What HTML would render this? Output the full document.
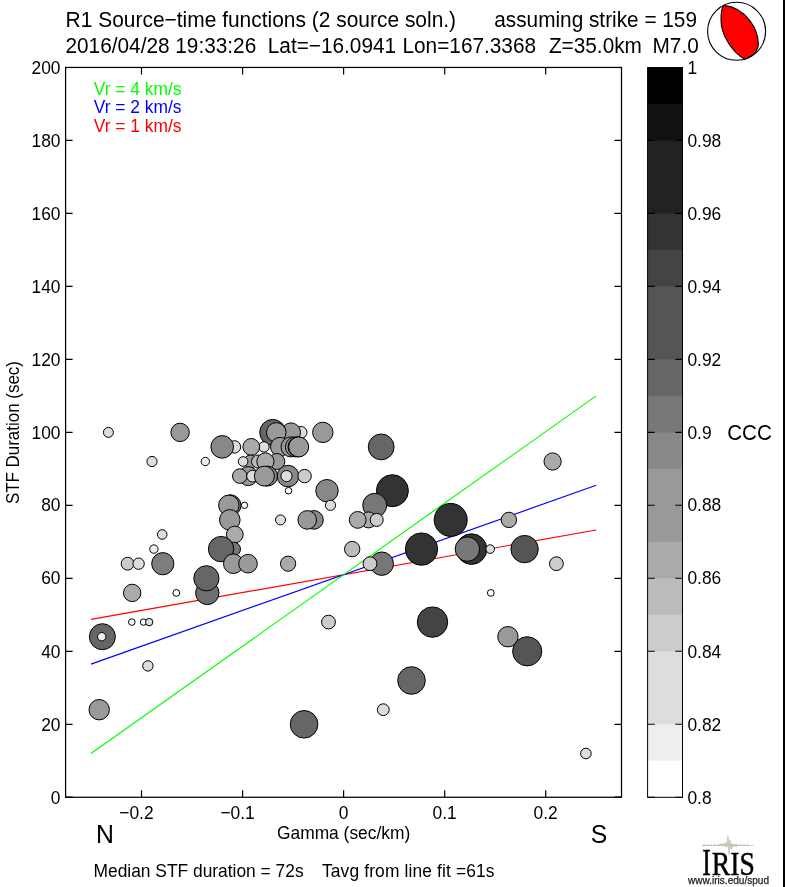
<!DOCTYPE html>
<html><head><meta charset="utf-8"><style>
html,body{margin:0;padding:0;background:#fff;}
svg{display:block;will-change:transform;}
text{font-family:"Liberation Sans",sans-serif;}
</style></head><body>
<svg width="785" height="887" viewBox="0 0 785 887">
<rect x="0" y="0" width="785" height="887" fill="#fff"/>
<rect x="783" y="0" width="2" height="887" fill="#000"/>
<g font-size="20.8" fill="#000">
<text transform="translate(65.6,27.3) scale(1,1.05)"   textLength="390.5" lengthAdjust="spacingAndGlyphs">R1 Source−time functions (2 source soln.)</text>
<text transform="translate(697,27.3) scale(1,1.05)"   text-anchor="end">assuming strike = 159</text>
<text transform="translate(65.5,52.8) scale(1,1.05)"  >2016/04/28 19:33:26</text>
<text transform="translate(267.8,52.8) scale(1,1.05)"  >Lat=−16.0941</text>
<text transform="translate(402.5,52.8) scale(1,1.05)"  >Lon=167.3368</text>
<text transform="translate(548.9,52.8) scale(1,1.05)"  >Z=35.0km</text>
<text transform="translate(652.5,52.8) scale(1,1.05)"  >M7.0</text>
</g>
<g font-size="17.4" fill="#000">
<text transform="translate(60.5,804.2) scale(1,1.06)"   text-anchor="end">0</text><text transform="translate(60.5,731.3) scale(1,1.06)"   text-anchor="end">20</text><text transform="translate(60.5,658.3) scale(1,1.06)"   text-anchor="end">40</text><text transform="translate(60.5,584.4) scale(1,1.06)"   text-anchor="end">60</text><text transform="translate(60.5,511.4) scale(1,1.06)"   text-anchor="end">80</text><text transform="translate(60.5,438.5) scale(1,1.06)"   text-anchor="end">100</text><text transform="translate(60.5,365.5) scale(1,1.06)"   text-anchor="end">120</text><text transform="translate(60.5,292.5) scale(1,1.06)"   text-anchor="end">140</text><text transform="translate(60.5,219.5) scale(1,1.06)"   text-anchor="end">160</text><text transform="translate(60.5,146.5) scale(1,1.06)"   text-anchor="end">180</text><text transform="translate(60.5,73.6) scale(1,1.06)"   text-anchor="end">200</text>
<text transform="translate(153.6,818.6) scale(1,1.06)"   text-anchor="end">−0.2</text><text transform="translate(254.7,818.6) scale(1,1.06)"   text-anchor="end">−0.1</text><text transform="translate(343.6,818.6) scale(1,1.06)"   text-anchor="middle">0</text><text transform="translate(444.7,818.6) scale(1,1.06)"   text-anchor="middle">0.1</text><text transform="translate(545.7,818.6) scale(1,1.06)"   text-anchor="middle">0.2</text>
<text transform="translate(687.4,804.2) scale(1,1.06)"  >0.8</text><text transform="translate(687.4,731.3) scale(1,1.06)"  >0.82</text><text transform="translate(687.4,658.3) scale(1,1.06)"  >0.84</text><text transform="translate(687.4,584.4) scale(1,1.06)"  >0.86</text><text transform="translate(687.4,511.4) scale(1,1.06)"  >0.88</text><text transform="translate(687.4,438.5) scale(1,1.06)"  >0.9</text><text transform="translate(687.4,365.5) scale(1,1.06)"  >0.92</text><text transform="translate(687.4,292.5) scale(1,1.06)"  >0.94</text><text transform="translate(687.4,219.5) scale(1,1.06)"  >0.96</text><text transform="translate(687.4,146.5) scale(1,1.06)"  >0.98</text><text transform="translate(687.4,73.6) scale(1,1.06)"  >1</text>
<text transform="translate(343.6,838.6) scale(1,1.06)"   text-anchor="middle">Gamma (sec/km)</text>
<text transform="translate(93.5,876.6) scale(1,1.06)"  >Median STF duration = 72s</text>
<text transform="translate(322,876.6) scale(1,1.06)"   textLength="172.5" lengthAdjust="spacing">Tavg from line fit =61s</text>
<text transform="translate(19.3,432.6) rotate(-90)" text-anchor="middle" font-size="17.8" textLength="143" lengthAdjust="spacingAndGlyphs">STF Duration (sec)</text>
<text transform="translate(93.8,95.0) scale(1,1.06)"   fill="#00ff00">Vr = 4 km/s</text>
<text transform="translate(93.8,113.4) scale(1,1.06)"   fill="#0000ff">Vr = 2 km/s</text>
<text transform="translate(93.8,131.8) scale(1,1.06)"   fill="#ff0000">Vr = 1 km/s</text>
</g>
<text transform="translate(749.5,439.7) scale(1,1.04)"   font-size="20.6" text-anchor="middle">CCC</text>
<text transform="translate(105,843) scale(1,1.04)"   font-size="24.8" text-anchor="middle">N</text>
<text transform="translate(599,843) scale(1,1.04)"   font-size="24.8" text-anchor="middle">S</text>
<!-- colorbar -->
<rect x="647.6" y="67.45" width="34.9" height="37.49" fill="rgb(0,0,0)"/><rect x="647.6" y="103.94" width="34.9" height="37.49" fill="rgb(17,17,17)"/><rect x="647.6" y="140.43" width="34.9" height="73.98" fill="rgb(34,34,34)"/><rect x="647.6" y="213.41" width="34.9" height="37.49" fill="rgb(51,51,51)"/><rect x="647.6" y="249.90" width="34.9" height="37.49" fill="rgb(68,68,68)"/><rect x="647.6" y="286.39" width="34.9" height="73.98" fill="rgb(85,85,85)"/><rect x="647.6" y="359.37" width="34.9" height="37.49" fill="rgb(102,102,102)"/><rect x="647.6" y="395.86" width="34.9" height="37.49" fill="rgb(119,119,119)"/><rect x="647.6" y="432.35" width="34.9" height="37.49" fill="rgb(136,136,136)"/><rect x="647.6" y="468.84" width="34.9" height="73.98" fill="rgb(153,153,153)"/><rect x="647.6" y="541.82" width="34.9" height="37.49" fill="rgb(170,170,170)"/><rect x="647.6" y="578.31" width="34.9" height="37.49" fill="rgb(187,187,187)"/><rect x="647.6" y="614.80" width="34.9" height="37.49" fill="rgb(204,204,204)"/><rect x="647.6" y="651.29" width="34.9" height="73.98" fill="rgb(221,221,221)"/><rect x="647.6" y="724.27" width="34.9" height="37.49" fill="rgb(238,238,238)"/><rect x="647.6" y="760.76" width="34.9" height="36.49" fill="rgb(255,255,255)"/>
<rect x="647.6" y="67.5" width="34.9" height="729.8" fill="none" stroke="#000" stroke-width="1.0"/>
<path d="M647.6,797.2H654.8000000000001M682.5,797.2H675.3M647.6,724.3H654.8000000000001M682.5,724.3H675.3M647.6,651.3H654.8000000000001M682.5,651.3H675.3M647.6,578.3H654.8000000000001M682.5,578.3H675.3M647.6,505.3H654.8000000000001M682.5,505.3H675.3M647.6,432.4H654.8000000000001M682.5,432.4H675.3M647.6,359.4H654.8000000000001M682.5,359.4H675.3M647.6,286.4H654.8000000000001M682.5,286.4H675.3M647.6,213.4H654.8000000000001M682.5,213.4H675.3M647.6,140.4H654.8000000000001M682.5,140.4H675.3M647.6,67.5H654.8000000000001M682.5,67.5H675.3" stroke="#000" stroke-width="1.1" fill="none"/>
<!-- axes -->
<line x1="91.0" y1="619.4" x2="596.2" y2="530.0" stroke="#ff0000" stroke-width="1.15"/><line x1="91.0" y1="664.1" x2="596.2" y2="485.3" stroke="#0000ff" stroke-width="1.15"/><line x1="91.0" y1="753.5" x2="596.2" y2="395.9" stroke="#00ff00" stroke-width="1.15"/>
<g stroke="#000" stroke-width="1.0">
<circle cx="108.4" cy="432.4" r="5.0" fill="#ddd"/>
<circle cx="180.1" cy="432.4" r="9.2" fill="#999"/>
<circle cx="301.1" cy="432.4" r="5.9" fill="#ddd"/>
<circle cx="291.0" cy="432.4" r="9.5" fill="#999"/>
<circle cx="272.7" cy="432.4" r="13.0" fill="#666"/>
<circle cx="276.3" cy="432.4" r="9.8" fill="#999"/>
<circle cx="322.8" cy="432.4" r="10.2" fill="#999"/>
<circle cx="234.5" cy="446.9" r="6.2" fill="#ddd"/>
<circle cx="222.2" cy="446.9" r="11.3" fill="#888"/>
<circle cx="264.0" cy="446.9" r="5.2" fill="#ddd"/>
<circle cx="251.3" cy="446.9" r="8.4" fill="#aaa"/>
<circle cx="280.0" cy="446.9" r="9.5" fill="#999"/>
<circle cx="291.0" cy="446.9" r="10.0" fill="#999"/>
<circle cx="295.4" cy="446.9" r="10.0" fill="#999"/>
<circle cx="298.0" cy="446.9" r="10.0" fill="#999"/>
<circle cx="298.7" cy="446.9" r="10.0" fill="#999"/>
<circle cx="381.2" cy="446.9" r="12.9" fill="#666"/>
<circle cx="152.0" cy="461.5" r="5.1" fill="#ddd"/>
<circle cx="205.3" cy="461.5" r="4.2" fill="#eee"/>
<circle cx="250.5" cy="461.5" r="6.5" fill="#999"/>
<circle cx="243.1" cy="461.5" r="4.8" fill="#ddd"/>
<circle cx="258.0" cy="461.5" r="6.5" fill="#bbb"/>
<circle cx="276.8" cy="461.5" r="8.0" fill="#999"/>
<circle cx="265.4" cy="461.5" r="8.6" fill="#aaa"/>
<circle cx="552.6" cy="461.5" r="8.6" fill="#aaa"/>
<circle cx="248.2" cy="476.1" r="9.5" fill="#999"/>
<circle cx="239.8" cy="476.1" r="7.3" fill="#aaa"/>
<circle cx="252.5" cy="476.1" r="5.8" fill="#ddd"/>
<circle cx="267.5" cy="476.1" r="10.0" fill="#888"/>
<circle cx="264.4" cy="476.1" r="10.0" fill="#999"/>
<circle cx="288.0" cy="476.1" r="10.8" fill="#888"/>
<circle cx="286.5" cy="476.1" r="5.6" fill="#ddd"/>
<circle cx="304.6" cy="476.1" r="6.7" fill="#ccc"/>
<circle cx="288.5" cy="490.7" r="3.3" fill="#fff"/>
<circle cx="327.0" cy="490.7" r="11.2" fill="#888"/>
<circle cx="392.4" cy="490.7" r="16.0" fill="#333"/>
<circle cx="230.5" cy="505.3" r="10.5" fill="#777"/>
<circle cx="228.8" cy="505.3" r="10.2" fill="#999"/>
<circle cx="244.5" cy="505.3" r="3.2" fill="#fff"/>
<circle cx="330.5" cy="505.3" r="5.1" fill="#ddd"/>
<circle cx="374.7" cy="505.3" r="12.0" fill="#777"/>
<circle cx="229.8" cy="519.9" r="10.3" fill="#999"/>
<circle cx="280.5" cy="519.9" r="5.0" fill="#ddd"/>
<circle cx="314.0" cy="519.9" r="9.3" fill="#888"/>
<circle cx="307.2" cy="519.9" r="9.3" fill="#999"/>
<circle cx="368.5" cy="519.9" r="8.0" fill="#aaa"/>
<circle cx="357.7" cy="519.9" r="8.4" fill="#aaa"/>
<circle cx="376.7" cy="519.9" r="6.5" fill="#ccc"/>
<circle cx="450.7" cy="519.9" r="16.5" fill="#333"/>
<circle cx="508.9" cy="519.9" r="7.7" fill="#aaa"/>
<circle cx="162.2" cy="534.5" r="4.8" fill="#ddd"/>
<circle cx="234.8" cy="534.5" r="8.4" fill="#aaa"/>
<circle cx="153.9" cy="549.1" r="4.2" fill="#eee"/>
<circle cx="233.5" cy="549.1" r="7.0" fill="#777"/>
<circle cx="221.1" cy="549.1" r="12.7" fill="#666"/>
<circle cx="352.2" cy="549.1" r="7.7" fill="#bbb"/>
<circle cx="421.5" cy="549.1" r="16.2" fill="#333"/>
<circle cx="471.5" cy="549.1" r="15.3" fill="#333"/>
<circle cx="467.4" cy="549.1" r="12.2" fill="#777"/>
<circle cx="490.2" cy="549.1" r="4.3" fill="#ddd"/>
<circle cx="524.6" cy="549.1" r="13.7" fill="#555"/>
<circle cx="127.6" cy="563.7" r="6.4" fill="#ccc"/>
<circle cx="138.6" cy="563.7" r="5.7" fill="#ddd"/>
<circle cx="162.8" cy="563.7" r="11.1" fill="#7e7e7e"/>
<circle cx="233.3" cy="563.7" r="9.8" fill="#999"/>
<circle cx="248.0" cy="563.7" r="9.3" fill="#999"/>
<circle cx="288.1" cy="563.7" r="7.6" fill="#aaa"/>
<circle cx="381.8" cy="563.7" r="11.7" fill="#777"/>
<circle cx="370.0" cy="563.7" r="6.9" fill="#ccc"/>
<circle cx="556.4" cy="563.7" r="6.9" fill="#ccc"/>
<circle cx="132.2" cy="592.9" r="8.7" fill="#aaa"/>
<circle cx="176.3" cy="592.9" r="3.4" fill="#fff"/>
<circle cx="207.3" cy="592.9" r="11.7" fill="#6e6e6e"/>
<circle cx="206.4" cy="578.3" r="12.6" fill="#666"/>
<circle cx="490.8" cy="592.9" r="3.4" fill="#fff"/>
<circle cx="131.8" cy="622.1" r="3.3" fill="#fff"/>
<circle cx="143.5" cy="622.1" r="3.2" fill="#fff"/>
<circle cx="149.2" cy="622.1" r="3.7" fill="#ddd"/>
<circle cx="328.5" cy="622.1" r="6.9" fill="#ccc"/>
<circle cx="432.5" cy="622.1" r="15.2" fill="#444"/>
<circle cx="102.4" cy="636.7" r="13.0" fill="#666"/>
<circle cx="101.7" cy="636.7" r="4.2" fill="#eee"/>
<circle cx="507.9" cy="636.7" r="10.2" fill="#999"/>
<circle cx="527.2" cy="651.3" r="14.6" fill="#555"/>
<circle cx="147.9" cy="665.9" r="5.2" fill="#ddd"/>
<circle cx="411.5" cy="680.5" r="13.8" fill="#666"/>
<circle cx="99.2" cy="709.7" r="10.2" fill="#999"/>
<circle cx="383.3" cy="709.7" r="5.9" fill="#ddd"/>
<circle cx="304.1" cy="724.3" r="13.8" fill="#666"/>
<circle cx="585.9" cy="753.5" r="5.3" fill="#ddd"/>
</g>
<rect x="65.6" y="67.45" width="555.9" height="729.80" fill="none" stroke="#000" stroke-width="1.25"/>
<path d="M141.5,797.2V790.2M141.5,67.5V74.5M242.6,797.2V790.2M242.6,67.5V74.5M343.6,797.2V790.2M343.6,67.5V74.5M444.7,797.2V790.2M444.7,67.5V74.5M545.7,797.2V790.2M545.7,67.5V74.5M65.6,797.2H72.6M621.5,797.2H614.5M65.6,724.3H72.6M621.5,724.3H614.5M65.6,651.3H72.6M621.5,651.3H614.5M65.6,578.3H72.6M621.5,578.3H614.5M65.6,505.3H72.6M621.5,505.3H614.5M65.6,432.4H72.6M621.5,432.4H614.5M65.6,359.4H72.6M621.5,359.4H614.5M65.6,286.4H72.6M621.5,286.4H614.5M65.6,213.4H72.6M621.5,213.4H614.5M65.6,140.4H72.6M621.5,140.4H614.5M65.6,67.5H72.6M621.5,67.5H614.5" stroke="#000" stroke-width="1.2" fill="none"/>
<!-- beachball -->
<circle cx="736.6" cy="31.3" r="29" fill="#fff" stroke="#000" stroke-width="1.1"/>
<path d="M723.8,5.4 C747,8 758,30 758.3,43 C758.6,51 753,56 744.8,59.3 C732,52 721,35 721,20 C721,12 722,7 723.8,5.4Z" fill="#ff0000" stroke="#000" stroke-width="1.1"/>
<!-- IRIS logo -->
<g>
<path d="M702,845.3 H753.8" stroke="#d0d0c0" stroke-width="1"/>
<path d="M703,845.3 h2 m1.5,0 h2 m1.5,0 h2 m1.5,0 h2 m1.5,0 h2 m17,0 h2 m1.5,0 h2 m1.5,0 h2 m1.5,0 h2" stroke="#a0a080" stroke-width="0.9"/>
<path d="M719,845.3 l1,-1.5 l1,2 l1,-2 l1,2.5 l1,-3 l1,3 l1,-4 l1,5 l1,-11 l1,18 l1,-14 l1,9 l1,-6 l1,4 l1,-3 l1,2 l1,-2 l1,2 l1,-1" stroke="#b8b8a8" stroke-width="0.8" fill="none"/>
<text x="702.2" y="874.8" style="font-family:'Liberation Serif',serif;font-size:38.5px" fill="#000" stroke="#000" stroke-width="0.5" textLength="8.6" lengthAdjust="spacingAndGlyphs">I</text>
<text x="711.8" y="874.8" style="font-family:'Liberation Serif',serif;font-size:33.7px" fill="#000" stroke="#000" stroke-width="0.5" textLength="43" lengthAdjust="spacingAndGlyphs">RIS</text>
<text x="688" y="884" style="font-family:'Liberation Sans',sans-serif;font-size:10.1px" fill="#222" stroke="#222" stroke-width="0.25" textLength="81" lengthAdjust="spacingAndGlyphs">www.iris.edu/spud</text>
</g>
</svg>
</body></html>
